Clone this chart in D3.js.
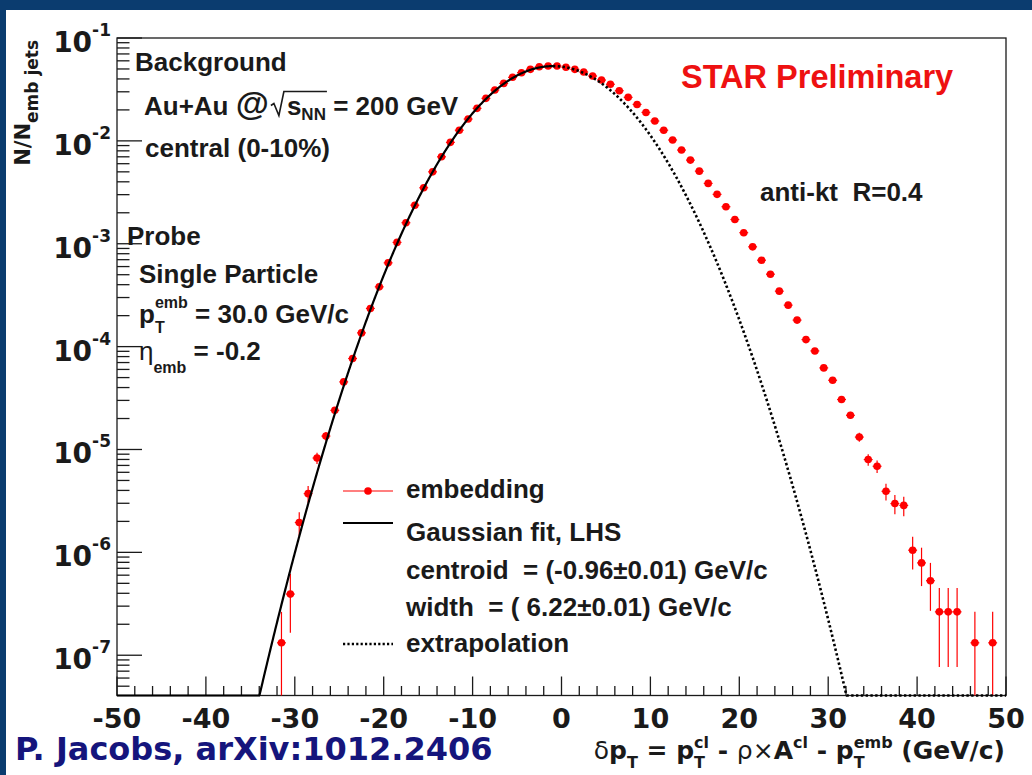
<!DOCTYPE html>
<html>
<head>
<meta charset="utf-8">
<script src="https://cdn.jsdelivr.net/npm/d3@7"></script>
<style>
  html, body { margin: 0; padding: 0; background: #fff; }
  svg text { white-space: pre; }
</style>
</head>
<body>
<svg id="chart" width="1032" height="775"></svg>
<script>
// ---- data -------------------------------------------------------------
// bin centres (GeV/c) of the embedding histogram (1 GeV/c bins, empty bins omitted)
const binCenters = [
  -31.5, -30.5, -29.5, -28.5, -27.5, -26.5, -25.5, -24.5, -23.5, -22.5,
  -21.5, -20.5, -19.5, -18.5, -17.5, -16.5, -15.5, -14.5, -13.5, -12.5,
  -11.5, -10.5, -9.5, -8.5, -7.5, -6.5, -5.5, -4.5, -3.5, -2.5,
  -1.5, -0.5, 0.5, 1.5, 2.5, 3.5, 4.5, 5.5, 6.5, 7.5,
  8.5, 9.5, 10.5, 11.5, 12.5, 13.5, 14.5, 15.5, 16.5, 17.5,
  18.5, 19.5, 20.5, 21.5, 22.5, 23.5, 24.5, 25.5, 26.5, 27.5,
  28.5, 29.5, 30.5, 31.5, 32.5, 33.5, 34.5, 35.5, 36.5, 37.5,
  38.5, 39.5, 40.5, 41.5, 42.5, 43.5, 44.5, 46.5, 48.5
];
// N / N_emb jets per bin
const embedding = [
  1.32e-7, 3.93e-7, 1.95e-6, 3.72e-6, 8.26e-6, 1.35e-5, 2.40e-5, 4.54e-5, 7.66e-5, 1.36e-4,
  2.35e-4, 3.81e-4, 6.52e-4, 1.03e-3, 1.60e-3, 2.37e-3, 3.50e-3, 5.00e-3, 7.00e-3, 9.67e-3,
  1.27e-2, 1.63e-2, 2.07e-2, 2.59e-2, 3.12e-2, 3.62e-2, 4.15e-2, 4.60e-2, 4.96e-2, 5.26e-2,
  5.34e-2, 5.34e-2, 5.19e-2, 4.96e-2, 4.67e-2, 4.27e-2, 3.90e-2, 3.55e-2, 3.07e-2, 2.65e-2,
  2.26e-2, 1.89e-2, 1.56e-2, 1.27e-2, 1.02e-2, 8.14e-3, 6.50e-3, 5.08e-3, 3.86e-3, 3.02e-3,
  2.29e-3, 1.72e-3, 1.28e-3, 9.33e-4, 6.92e-4, 5.06e-4, 3.46e-4, 2.53e-4, 1.81e-4, 1.17e-4,
  9.08e-5, 6.21e-5, 4.71e-5, 3.06e-5, 2.15e-5, 1.32e-5, 7.98e-6, 6.87e-6, 3.92e-6, 2.98e-6,
  2.86e-6, 1.05e-6, 7.9e-7, 5.3e-7, 2.64e-7, 2.64e-7, 2.64e-7, 1.32e-7, 1.32e-7
];
// statistical uncertainty per bin
const embeddingErr = [
  1.32e-7, 2.28e-7, 5.1e-7, 7.0e-7, 1.04e-6, 1.33e-6, 1.78e-6, 2.45e-6, 3.2e-6, 4.2e-6,
  5.6e-6, 7.1e-6, 9.3e-6, 1.17e-5, 1.45e-5, 1.77e-5, 2.15e-5, 2.57e-5, 3.04e-5, 3.57e-5,
  4.1e-5, 4.6e-5, 5.2e-5, 5.8e-5, 6.4e-5, 6.9e-5, 7.4e-5, 7.8e-5, 8.1e-5, 8.3e-5,
  8.4e-5, 8.4e-5, 8.3e-5, 8.1e-5, 7.9e-5, 7.5e-5, 7.2e-5, 6.8e-5, 6.4e-5, 5.9e-5,
  5.5e-5, 5.0e-5, 4.5e-5, 4.1e-5, 3.7e-5, 3.3e-5, 2.9e-5, 2.6e-5, 2.26e-5, 2.0e-5,
  1.74e-5, 1.5e-5, 1.3e-5, 1.11e-5, 9.6e-6, 8.2e-6, 6.8e-6, 5.8e-6, 4.9e-6, 3.9e-6,
  3.5e-6, 2.9e-6, 2.5e-6, 2.0e-6, 1.7e-6, 1.32e-6, 1.03e-6, 9.5e-7, 7.2e-7, 6.3e-7,
  6.1e-7, 3.7e-7, 3.2e-7, 2.6e-7, 1.87e-7, 1.87e-7, 1.87e-7, 1.32e-7, 1.32e-7
];
const binHalfWidth = 0.5;

// Gaussian fit to the left-hand side
const fitAmplitude = 0.0533;
const fitCentroid = -0.96;
const fitWidth = 6.22;

// axes
const xDomain = [-50, 50];
const yDomain = [4.06e-8, 0.1];
const xTickLabels = [-50, -40, -30, -20, -10, 0, 10, 20, 30, 40, 50];
const yTickExponents = [-1, -2, -3, -4, -5, -6, -7];

// ---- layout -----------------------------------------------------------
const W = 1032, H = 775;
const frame = { left: 117, right: 1006, top: 38, bottom: 695.5 };
const RED = "#ff0000";
const INK = "#1a1a1a";
const SANS = "'Liberation Sans', Arial, Helvetica, sans-serif";
const WIDE = "'DejaVu Sans', Verdana, sans-serif";

const svg = d3.select("#chart");
svg.append("rect").attr("width", W).attr("height", H).attr("fill", "#fff");
// slide border
svg.append("rect").attr("x", 0).attr("y", 0).attr("width", W).attr("height", 10).attr("fill", "#0b3c6f");
svg.append("rect").attr("x", 0).attr("y", 0).attr("width", 6).attr("height", H).attr("fill", "#0b3c6f");

const x = d3.scaleLinear().domain(xDomain).range([frame.left, frame.right]);
const y = d3.scaleLog().domain(yDomain).range([frame.bottom, frame.top]);

// ---- rich text helper (super/subscripts laid out run by run) ---------
function rich(parent, runs, opts) {
  const g = parent.append("g");
  const base = { family: SANS, weight: "bold", size: 26, fill: INK, ...opts };
  const marks = {};
  let cx = 0;
  const put = (r, at) => {
    const t = g.append("text")
      .attr("x", at).attr("y", r.dy || 0)
      .attr("font-family", r.family || base.family)
      .attr("font-weight", r.weight || base.weight)
      .attr("font-size", r.size || base.size)
      .attr("fill", r.fill || base.fill)
      .text(r.t);
    return t.node().getComputedTextLength();
  };
  runs.forEach(r => {
    if (r.mark) marks[r.mark] = cx;
    if (r.space) { cx += r.space; return; }
    if (r.stack) {
      let w = 0;
      r.stack.forEach(s => { w = Math.max(w, put(s, cx)); });
      cx += w;
    } else {
      cx += put(r, cx);
    }
    if (r.markEnd) marks[r.markEnd] = cx;
  });
  const x0 = base.anchor === "end" ? base.x - cx : base.anchor === "middle" ? base.x - cx / 2 : base.x;
  g.attr("transform", `translate(${x0},${base.y})`);
  return { g, width: cx, marks, x0 };
}

// ---- frame and ticks --------------------------------------------------
const axes = svg.append("g").attr("stroke", INK).attr("stroke-width", 1.3).attr("fill", "none");

// x ticks: major every 10, minor every 2 (pointing into the frame)
x.ticks(50).forEach(v => {
  const major = Math.abs(v % 10) < 1e-9;
  const len = major ? 19 : 9.5;
  axes.append("line").attr("x1", x(v)).attr("x2", x(v))
    .attr("y1", frame.bottom).attr("y2", frame.bottom - len);
});
// y ticks: decades long, 2..9 short
y.ticks().forEach(v => {
  const m = v / Math.pow(10, Math.floor(Math.log10(v) + 1e-9));
  const major = Math.abs(m - 1) < 1e-6;
  const len = major ? 25 : 12.5;
  axes.append("line").attr("x1", frame.left).attr("x2", frame.left + len)
    .attr("y1", y(v)).attr("y2", y(v));
});
axes.append("rect").attr("x", frame.left).attr("y", frame.top)
  .attr("width", frame.right - frame.left).attr("height", frame.bottom - frame.top);

// tick labels
xTickLabels.forEach(v => {
  svg.append("text").attr("x", x(v)).attr("y", 728)
    .attr("text-anchor", "middle")
    .attr("font-family", WIDE).attr("font-weight", "bold").attr("font-size", 27)
    .attr("fill", INK).text(String(v));
});
yTickExponents.forEach(e => {
  const ty = y(Math.pow(10, e));
  rich(svg, [
    { t: "10", family: WIDE, size: 28, dy: 14 },
    { t: String(e), family: WIDE, size: 17, dy: -2 }
  ], { x: 111, y: ty, anchor: "end" });
});

// axis titles
rich(svg, [
  { t: "δ", weight: "normal" },
  { t: "p" },
  { t: "T", size: 16, dy: 9 },
  { t: " = p" },
  { stack: [{ t: "cl", size: 16, dy: -11 }, { t: "T", size: 16, dy: 9 }] },
  { t: " - " },
  { t: "ρ×", weight: "normal" },
  { t: "A" },
  { t: "cl", size: 16, dy: -11 },
  { t: " - p" },
  { stack: [{ t: "emb", size: 16, dy: -11 }, { t: "T", size: 16, dy: 9 }] },
  { t: " (GeV/c)" }
], { x: 1005, y: 759, anchor: "end", family: WIDE, size: 25 });

const yTitle = svg.append("g").attr("transform", "translate(30,40) rotate(-90)");
rich(yTitle, [
  { t: "N/N", size: 21 },
  { t: "emb jets", size: 17, dy: 8 }
], { x: 0, y: 0, anchor: "end", family: WIDE });

// ---- data -------------------------------------------------------------
const plot = svg.append("g");
const clampY = v => Math.max(v, yDomain[0]);
const pts = binCenters.map((c, i) => ({ c, v: embedding[i], e: embeddingErr[i] }));

const err = plot.append("g").attr("stroke", RED).attr("stroke-width", 1.2);
pts.forEach(p => {
  err.append("line").attr("x1", x(p.c)).attr("x2", x(p.c))
    .attr("y1", y(clampY(p.v - p.e))).attr("y2", y(Math.min(p.v + p.e, yDomain[1])));
  err.append("line").attr("x1", x(p.c - binHalfWidth)).attr("x2", x(p.c + binHalfWidth))
    .attr("y1", y(p.v)).attr("y2", y(p.v));
});
plot.append("g").selectAll("circle").data(pts).join("circle")
  .attr("cx", p => x(p.c)).attr("cy", p => y(p.v)).attr("r", 3.8).attr("fill", RED);

// Gaussian fit: solid up to the centroid, dotted extrapolation beyond
const gauss = t => fitAmplitude * Math.exp(-0.5 * Math.pow((t - fitCentroid) / fitWidth, 2));
const line = d3.line().x(d => x(d)).y(d => y(clampY(gauss(d))));
const lhs = d3.range(xDomain[0], fitCentroid, 0.05).concat([fitCentroid]);
const rhs = d3.range(fitCentroid, xDomain[1], 0.05).concat([xDomain[1]]);
plot.append("path").attr("d", line(lhs)).attr("fill", "none")
  .attr("stroke", "#000").attr("stroke-width", 2.2);
plot.append("path").attr("d", line(rhs)).attr("fill", "none")
  .attr("stroke", "#000").attr("stroke-width", 2.6).attr("stroke-dasharray", "2.4,2.4");

// ---- annotations --------------------------------------------------------
const note = svg.append("g");
rich(note, [{ t: "Background" }], { x: 135, y: 71 });
const sq = rich(note, [
  { t: "Au+Au " },
  { t: "@", size: 34 },
  { space: 18, mark: "rad" },
  { t: "s" },
  { t: "NN", size: 17, dy: 5, markEnd: "s1" },
  { t: " = 200 GeV" }
], { x: 144, y: 114.5 });
const r0 = sq.marks.rad + 2;
sq.g.append("path")
  .attr("d", `M${r0},-9 L${r0 + 3},-11 L${r0 + 8},1 L${r0 + 13},-23 L${sq.marks.s1 + 1},-23`)
  .attr("fill", "none").attr("stroke", INK).attr("stroke-width", 1.6);
rich(note, [{ t: "central (0-10%)" }], { x: 145, y: 157 });
rich(note, [{ t: "Probe" }], { x: 127, y: 245 });
rich(note, [{ t: "Single Particle" }], { x: 139, y: 283 });
rich(note, [
  { t: "p" },
  { stack: [{ t: "emb", size: 16, dy: -15 }, { t: "T", size: 16, dy: 10 }] },
  { t: " = 30.0 GeV/c" }
], { x: 139, y: 323 });
rich(note, [
  { t: "η", weight: "normal" },
  { t: "emb", size: 16, dy: 13 },
  { t: " = -0.2" }
], { x: 139, y: 360 });

rich(note, [{ t: "STAR Preliminary", size: 32.5, fill: "#ee1111" }], { x: 681, y: 88 });
rich(note, [{ t: "anti-kt  R=0.4" }], { x: 760, y: 201 });

// legend
const leg = svg.append("g");
const legX0 = 343, legX1 = 393, legText = 406;
leg.append("line").attr("x1", legX0).attr("x2", legX1).attr("y1", 491).attr("y2", 491)
  .attr("stroke", RED).attr("stroke-width", 1.2);
leg.append("circle").attr("cx", (legX0 + legX1) / 2).attr("cy", 491).attr("r", 3.8).attr("fill", RED);
rich(leg, [{ t: "embedding" }], { x: legText, y: 498 });
leg.append("line").attr("x1", legX0).attr("x2", legX1).attr("y1", 523).attr("y2", 523)
  .attr("stroke", "#000").attr("stroke-width", 2.2);
rich(leg, [{ t: "Gaussian fit, LHS" }], { x: legText, y: 541 });
rich(leg, [{ t: "centroid  = (-0.96±0.01) GeV/c" }], { x: legText, y: 579 });
rich(leg, [{ t: "width  = ( 6.22±0.01) GeV/c" }], { x: legText, y: 616 });
leg.append("line").attr("x1", legX0).attr("x2", legX1).attr("y1", 644).attr("y2", 644)
  .attr("stroke", "#000").attr("stroke-width", 2.4).attr("stroke-dasharray", "2.2,2.2");
rich(leg, [{ t: "extrapolation" }], { x: legText, y: 652 });

// credit line
svg.append("text").attr("x", 15).attr("y", 760)
  .attr("font-family", WIDE).attr("font-weight", "bold").attr("font-size", 32)
  .attr("fill", "#15157c").text("P. Jacobs, arXiv:1012.2406");
</script>
</body>
</html>
